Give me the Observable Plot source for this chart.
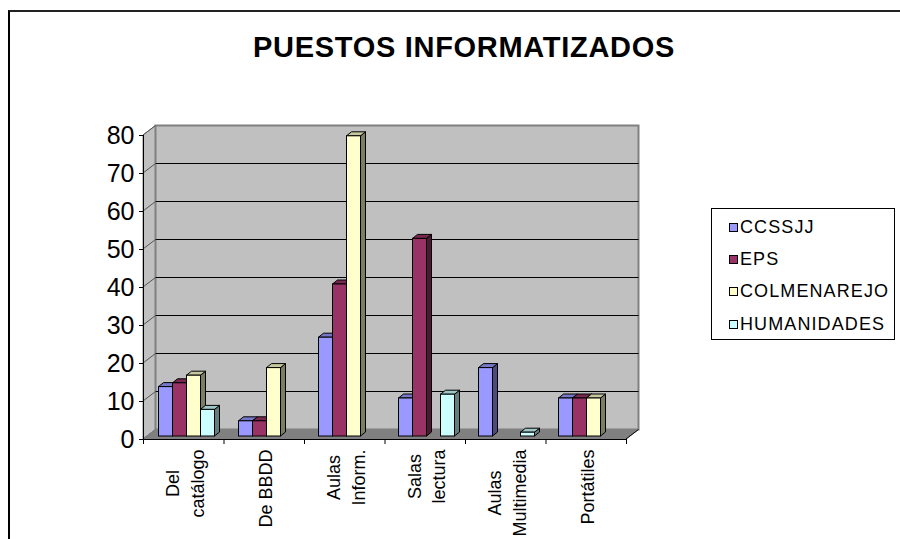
<!DOCTYPE html>
<html>
<head>
<meta charset="utf-8">
<script src="https://cdn.jsdelivr.net/npm/d3@7"></script>
<script src="https://cdn.jsdelivr.net/npm/@observablehq/plot@0.6"></script>
<style>
  html, body { margin: 0; padding: 0; background: #fff; }
  #chart { position: relative; width: 900px; height: 539px; overflow: hidden; background: #fff;
           font-family: "Liberation Sans", Arial, sans-serif; color: #000; }
  #frame { position: absolute; left: 8px; top: 10px; width: 1000px; height: 1000px;
           border-left: 2px solid #000; border-top: 2px solid #222; }
  #title { position: absolute; left: 0; top: 33px; width: 928px; text-align: center;
           font-weight: bold; font-size: 29px; line-height: 1; letter-spacing: 0.7px; }
  #legend { position: absolute; left: 711px; top: 208px; width: 184px; height: 132px;
            border: 1px solid #000; box-sizing: border-box; padding-top: 2px; background: #fff; }
  .item { height: 32.4px; display: flex; align-items: center; padding-left: 17px;
          font-size: 18px; letter-spacing: 1.1px; white-space: nowrap; }
  .sw { width: 7px; height: 7px; border: 1px solid #000; margin-right: 2px; flex: none; }
  .layer { position: absolute; left: 0; top: 0; }
</style>
</head>
<body>
<div id="chart">
  <div id="frame"></div>
  <div id="title"></div>
  <div id="legend"></div>
</div>
<script>
// ---------- data ----------
const title = "PUESTOS INFORMATIZADOS";
const categories = ["Del catálogo", "De BBDD", "Aulas Inform.", "Salas lectura", "Aulas Multimedia", "Portátiles"];
const categoryLines = [["Del", "catálogo"], ["De BBDD"], ["Aulas", "Inform."], ["Salas", "lectura"], ["Aulas", "Multimedia"], ["Portátiles"]];
const series = ["CCSSJJ", "EPS", "COLMENAREJO", "HUMANIDADES"];
const ccssjj      = [13, 4, 26, 10, 18, 10];
const eps         = [14, 4, 40, 52, null, 10];
const colmenarejo = [16, 18, 79, null, null, 10];
const humanidades = [7, null, null, 11, 1, null];
const seriesColors = ["#9999FF", "#993366", "#FFFFCC", "#CCFFFF"];
const yTicks = [0, 10, 20, 30, 40, 50, 60, 70, 80];

// ---------- layout / style ----------
const W = 900, H = 539;
const M = {left: 143, right: 274, top: 135, bottom: 100};
const WALL_DX = 12.5, WALL_DY = -9.5;   // 3D depth of the walls
const BAR_DX = 5, BAR_DY = -4;          // 3D depth of each bar
const FONT = "Liberation Sans, Arial, sans-serif";
const LABEL_SIZE = 18;

const seriesValues = [ccssjj, eps, colmenarejo, humanidades];
const rows = categories.flatMap((c, i) =>
  series.map((s, j) => ({category: c, series: s, value: seriesValues[j][i]}))
).filter(d => d.value != null);

// title + legend
document.getElementById("title").textContent = title;
const legend = d3.select("#legend");
series.forEach((s, j) => {
  const it = legend.append("div").attr("class", "item");
  it.append("div").attr("class", "sw").style("background", seriesColors[j]);
  it.append("span").text(s);
});

// ---------- scaffold (walls, floor, grid) through Plot scales ----------
const scaffold = (index, {x, y}) => {
  const g = d3.create("svg:g");
  const x0 = x(0), x1 = x(categories.length), y0 = y(0), yT = y(yTicks[yTicks.length - 1]);
  // left side wall
  g.append("path")
    .attr("d", `M${x0},${yT}L${x0 + WALL_DX},${yT + WALL_DY}L${x0 + WALL_DX},${y0 + WALL_DY}L${x0},${y0}Z`)
    .attr("fill", "#c0c0c0").attr("stroke", "#808080");
  // back wall
  g.append("rect")
    .attr("x", x0 + WALL_DX).attr("y", yT + WALL_DY)
    .attr("width", x1 - x0).attr("height", y0 - yT)
    .attr("fill", "#c0c0c0").attr("stroke", "#808080").attr("stroke-width", 2);
  // gridlines on back wall and diagonals on side wall
  for (const v of yTicks.slice(1, -1)) {
    g.append("line")
      .attr("x1", x0 + WALL_DX).attr("x2", x1 + WALL_DX)
      .attr("y1", y(v) + WALL_DY).attr("y2", y(v) + WALL_DY)
      .attr("stroke", "#000");
  }
  for (const v of yTicks) {
    g.append("line")
      .attr("x1", x0).attr("y1", y(v))
      .attr("x2", x0 + WALL_DX).attr("y2", y(v) + WALL_DY)
      .attr("stroke", "#555");
  }
  // floor
  g.append("path")
    .attr("d", `M${x0},${y0}L${x1},${y0}L${x1 + WALL_DX},${y0 + WALL_DY}L${x0 + WALL_DX},${y0 + WALL_DY}Z`)
    .attr("fill", "#808080").attr("stroke", "#808080");
  g.append("line")
    .attr("x1", x1).attr("y1", y0).attr("x2", x1 + WALL_DX).attr("y2", y0 + WALL_DY)
    .attr("stroke", "#000");
  return g.node();
};

// category label marks (multi-line, rotated, centered on longest line)
const ctx = document.createElement("canvas").getContext("2d");
ctx.font = `${LABEL_SIZE}px "Liberation Sans"`;
const labelMarks = categoryLines.map((lines, i) => {
  const maxLen = d3.max(lines, l => ctx.measureText(l).width);
  return Plot.text([i], {
    x: d => d + 0.5, y: () => 0,
    text: () => lines.join("\n"),
    rotate: -90, textAnchor: "middle", lineAnchor: "middle",
    fontSize: LABEL_SIZE, lineHeight: 1.35, fill: "#000",
    dx: 0, dy: 10 + maxLen / 2
  });
});

const base = Plot.plot({
  width: W, height: H,
  marginLeft: M.left, marginRight: M.right, marginTop: M.top, marginBottom: M.bottom,
  style: {background: "transparent", fontFamily: FONT, color: "#000", overflow: "visible"},
  x: {type: "linear", domain: [0, categories.length]},
  y: {domain: [0, yTicks[yTicks.length - 1]]},
  marks: [
    scaffold,
    Plot.ruleX([0], {stroke: "#000"}),
    Plot.ruleY([0], {stroke: "#000"}),
    Plot.axisY(yTicks, {tickSize: 4, tickPadding: 5, fontSize: 25, label: null, stroke: "#000", fill: "#000"}),
    Plot.axisX(d3.range(categories.length + 1), {tickSize: 5, tickFormat: () => "", label: null, stroke: "#000"}),
    ...labelMarks
  ]
});
base.classList.add("layer");
document.getElementById("chart").appendChild(base);

// ---------- bars with 3D faces ----------
function addDepth(index, scales, values, dimensions, context, next) {
  const g = next(index, scales, values, dimensions, context);
  const depth = d3.create("svg:g");
  d3.select(g).selectAll("rect").each(function () {
    const r = d3.select(this);
    const x = +r.attr("x"), y = +r.attr("y"), w = +r.attr("width"), h = +r.attr("height");
    const c = d3.color(r.attr("fill"));
    depth.append("path")
      .attr("d", `M${x + w},${y}L${x + w + BAR_DX},${y + BAR_DY}L${x + w + BAR_DX},${y + h + BAR_DY}L${x + w},${y + h}Z`)
      .attr("fill", c.darker(2).formatHex()).attr("stroke", "#000");
    depth.append("path")
      .attr("d", `M${x},${y}L${x + BAR_DX},${y + BAR_DY}L${x + w + BAR_DX},${y + BAR_DY}L${x + w},${y}Z`)
      .attr("fill", c.darker(0.7).formatHex()).attr("stroke", "#000");
  });
  g.insertBefore(depth.node(), g.firstChild);
  return g;
}

const bars = Plot.plot({
  width: W, height: H,
  marginLeft: M.left, marginRight: M.right, marginTop: M.top, marginBottom: M.bottom,
  style: {background: "transparent", fontFamily: FONT, overflow: "visible"},
  fx: {domain: categories, padding: 0, axis: null, label: null},
  x: {domain: series, paddingInner: 0, paddingOuter: 0.77, axis: null},
  y: {domain: [0, yTicks[yTicks.length - 1]], axis: null},
  color: {domain: series, range: seriesColors},
  marks: [
    Plot.barY(rows, {
      fx: "category", x: "series", y: "value", fill: "series",
      stroke: "#000", strokeWidth: 1, dx: 1.5, dy: -3,
      render: addDepth
    })
  ]
});
bars.classList.add("layer");
document.getElementById("chart").appendChild(bars);
</script>
</body>
</html>
